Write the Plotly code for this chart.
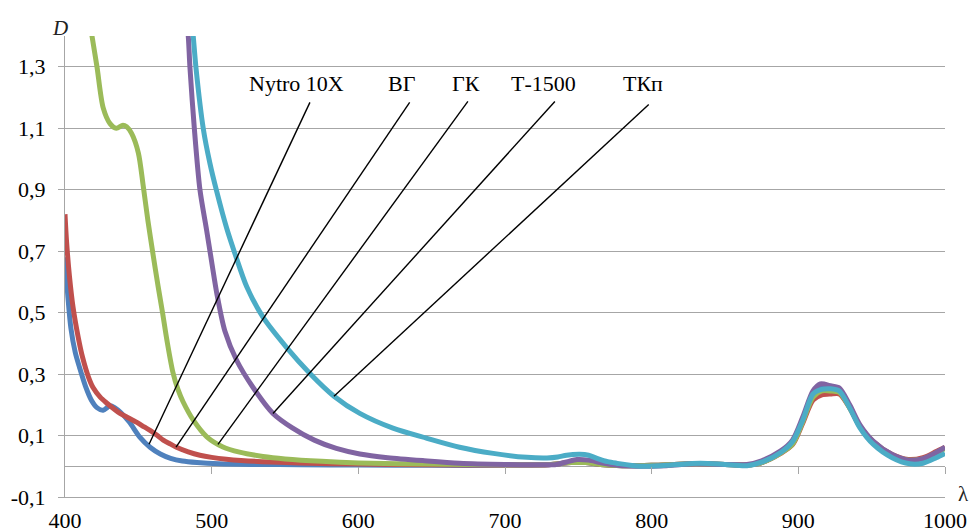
import plotly.graph_objects as go

# Optical density D of transformer oils versus wavelength λ (nm)
NYTRO_X = [400, 402, 404, 407, 410, 414, 418, 422, 426, 429, 431, 434, 438, 444, 451, 458, 465,
           472, 480, 490, 505, 530, 560, 600, 650, 700, 730, 745, 755, 765, 780, 800, 830, 850,
           865, 875, 888, 896, 903, 910, 916, 922, 928, 935, 942, 951, 964, 975, 985, 994, 1000]
NYTRO_D = [0.68, 0.55, 0.45, 0.37, 0.32, 0.26, 0.215, 0.19, 0.182, 0.192, 0.197, 0.19, 0.175,
           0.143, 0.095, 0.062, 0.04, 0.026, 0.017, 0.012, 0.008, 0.006, 0.005, 0.004, 0.003,
           0.003, 0.005, 0.012, 0.012, 0.006, 0.002, 0.003, 0.008, 0.006, 0.004, 0.012, 0.045,
           0.075, 0.15, 0.235, 0.265, 0.26, 0.25, 0.195, 0.13, 0.078, 0.035, 0.018, 0.022,
           0.042, 0.06]

VG_X = [400, 401, 403, 405.5, 409, 412, 416, 419, 424, 428.6, 433, 437.5, 443, 449, 454, 458,
        463, 467, 472, 476, 484, 492, 500, 510, 520, 540, 560, 600, 650, 700, 730, 745, 755,
        765, 780, 800, 830, 850, 865, 875, 888, 896, 903, 910, 916, 922, 928, 935, 942, 951,
        964, 975, 985, 994, 1000]
VG_D = [0.82, 0.735, 0.62, 0.517, 0.42, 0.354, 0.29, 0.257, 0.225, 0.205, 0.188, 0.172, 0.158,
        0.143, 0.128, 0.117, 0.1, 0.085, 0.072, 0.062, 0.047, 0.036, 0.029, 0.023, 0.019,
        0.014, 0.011, 0.007, 0.005, 0.004, 0.005, 0.012, 0.012, 0.006, 0.002, 0.003, 0.008,
        0.006, 0.004, 0.012, 0.042, 0.07, 0.14, 0.215, 0.232, 0.235, 0.235, 0.19, 0.13, 0.08,
        0.038, 0.022, 0.028, 0.048, 0.062]

GK_X = [417, 418.4, 421.8, 426, 430.7, 435, 439.5, 442, 445.4, 450, 453.4, 456.5, 460, 463.5,
        466.5, 469.5, 473.6, 477, 480.5, 487.5, 496.7, 507.7, 519, 535, 550, 575, 600, 650,
        700, 730, 745, 755, 765, 780, 800, 830, 850, 865, 875, 888, 896, 903, 910, 916, 922,
        928, 935, 942, 951, 964, 975, 985, 994, 1000]
GK_D = [1.45, 1.4, 1.3, 1.167, 1.115, 1.1, 1.11, 1.105, 1.083, 1.02, 0.91, 0.8, 0.69, 0.585,
        0.5, 0.41, 0.305, 0.25, 0.21, 0.15, 0.096, 0.063, 0.046, 0.032, 0.024, 0.016, 0.011,
        0.007, 0.005, 0.006, 0.012, 0.012, 0.006, 0.002, 0.003, 0.008, 0.006, 0.004, 0.012,
        0.043, 0.072, 0.145, 0.225, 0.245, 0.245, 0.24, 0.19, 0.13, 0.08, 0.036, 0.02, 0.024,
        0.044, 0.058]

T1500_X = [483.0, 484.1, 485.2, 488.2, 492, 496.6, 500, 503.6, 509, 517, 528, 541.8, 555, 570,
           585, 601, 620, 645, 669, 700, 724, 735, 742, 749, 757, 765, 775, 790, 810, 830, 850,
           865, 875, 888, 896, 903, 910, 915, 922, 928, 935, 942, 951, 964, 975, 985, 994, 1000]
T1500_D = [1.45, 1.396, 1.297, 1.098, 0.9, 0.767, 0.665, 0.56, 0.44, 0.345, 0.258, 0.172, 0.125,
           0.085, 0.058, 0.04, 0.028, 0.018, 0.01, 0.006, 0.005, 0.006, 0.014, 0.022, 0.02,
           0.012, 0.004, 0.0, 0.002, 0.008, 0.006, 0.006, 0.018, 0.05, 0.085, 0.16, 0.245,
           0.268, 0.262, 0.255, 0.2, 0.135, 0.082, 0.038, 0.02, 0.025, 0.045, 0.062]

TKP_X = [486.5, 487.5, 489.3, 494.3, 498.9, 503.4, 510.2, 516, 524, 535, 551, 567, 583.4, 601,
         623.6, 646.8, 669, 692, 715, 728.6, 736, 742, 751, 757, 762.7, 770, 776, 792, 810, 833,
         850, 865, 876, 888, 896, 903, 910, 916, 922, 928, 935, 942, 951, 964, 976, 985, 994,
         1000]
TKP_D = [1.45, 1.396, 1.297, 1.098, 0.984, 0.895, 0.775, 0.69, 0.583, 0.485, 0.387, 0.302,
         0.228, 0.172, 0.124, 0.091, 0.062, 0.042, 0.029, 0.027, 0.03, 0.036, 0.039, 0.036,
         0.026, 0.015, 0.01, 0.0, 0.003, 0.01, 0.006, 0.002, 0.015, 0.045, 0.08, 0.15, 0.235,
         0.25, 0.252, 0.245, 0.19, 0.125, 0.072, 0.028, 0.008, 0.01, 0.028, 0.042]

NAMES = ["Nytro 10X", "ВГ", "ГК", "Т-1500", "ТКп"]
SERIES_X = [NYTRO_X, VG_X, GK_X, T1500_X, TKP_X]
SERIES_D = [NYTRO_D, VG_D, GK_D, T1500_D, TKP_D]

X_TICKS = [400, 500, 600, 700, 800, 900, 1000]
Y_TICKS = [-0.1, 0.1, 0.3, 0.5, 0.7, 0.9, 1.1, 1.3]
Y_TICK_TEXT = ["-0,1", "0,1", "0,3", "0,5", "0,7", "0,9", "1,1", "1,3"]

# Leader lines: from under each name down to a point on its curve
LEADER_FROM_X = [567, 635, 674.7, 734, 798]
LEADER_FROM_D = [1.184, 1.184, 1.187, 1.187, 1.177]
LEADER_TO_X = [457.3, 475.7, 504.3, 541.8, 583.4]
LEADER_TO_D = [0.0715, 0.062, 0.0715, 0.172, 0.228]

# Styling
COLORS = ["#4F81BD", "#C0504D", "#9BBB59", "#8064A2", "#4BACC6"]
LABEL_X = [558, 629.5, 673.5, 726, 794]
LABEL_D = 1.245
GRID = "#A6A6A6"
FONT = "Liberation Serif, Times New Roman, DejaVu Serif, serif"

fig = go.Figure()
for name, xs, ds, col in zip(NAMES, SERIES_X, SERIES_D, COLORS):
    fig.add_trace(go.Scatter(
        x=xs, y=ds, name=name, mode="lines",
        line=dict(color=col, width=5, shape="spline", smoothing=0.8),
        hoverinfo="skip",
    ))

# carrier trace for the tick axis drawn along D = 0
fig.add_trace(go.Scatter(x=[400, 1000], y=[None, None], xaxis="x2", yaxis="y",
                         mode="lines", showlegend=False, hoverinfo="skip"))

shapes = []
for x0, y0, x1, y1 in zip(LEADER_FROM_X, LEADER_FROM_D, LEADER_TO_X, LEADER_TO_D):
    shapes.append(dict(type="line", xref="x", yref="y", x0=x0, y0=y0, x1=x1, y1=y1,
                       line=dict(color="black", width=1.4)))

annotations = []
for name, lx in zip(NAMES, LABEL_X):
    annotations.append(dict(x=lx, y=LABEL_D, xref="x", yref="y", text=name,
                            showarrow=False, xanchor="center", yanchor="middle",
                            font=dict(family=FONT, size=22, color="black")))
annotations.append(dict(x=-0.006, y=1.018, xref="paper", yref="paper", text="<i>D</i>",
                        showarrow=False, xanchor="center", yanchor="middle",
                        font=dict(family=FONT, size=21, color="#222")))
annotations.append(dict(x=1.0205, y=0.0065, xref="paper", yref="paper", text="λ",
                        showarrow=False, xanchor="center", yanchor="middle",
                        font=dict(family=FONT, size=21, color="#222")))

fig.update_layout(
    width=970, height=532,
    margin=dict(l=65, r=25, t=36, b=35, autoexpand=False),
    paper_bgcolor="white", plot_bgcolor="white",
    showlegend=False,
    font=dict(family=FONT, size=22, color="black"),
    shapes=shapes, annotations=annotations,
    xaxis=dict(range=[400, 1000], tickvals=X_TICKS, ticks="", ticklen=0, showgrid=False,
               zeroline=False, showline=True, linecolor=GRID, linewidth=1,
               ticklabelstandoff=4, automargin=False, fixedrange=True),
    xaxis2=dict(range=[400, 1000], overlaying="x", anchor="free", position=0.1 / 1.5,
                side="bottom", tickvals=X_TICKS[1:], ticks="outside", ticklen=7,
                tickcolor=GRID, tickwidth=1, showticklabels=False, showgrid=False,
                zeroline=False, showline=False, automargin=False),
    yaxis=dict(range=[-0.1, 1.4], tickvals=Y_TICKS, ticktext=Y_TICK_TEXT,
               showgrid=True, gridcolor=GRID, gridwidth=1,
               zeroline=True, zerolinecolor=GRID, zerolinewidth=1,
               showline=True, linecolor=GRID, linewidth=1,
               ticks="outside", ticklen=6, tickcolor=GRID, ticklabelstandoff=8,
               automargin=False, fixedrange=True),
)

fig.write_html("out.html")
